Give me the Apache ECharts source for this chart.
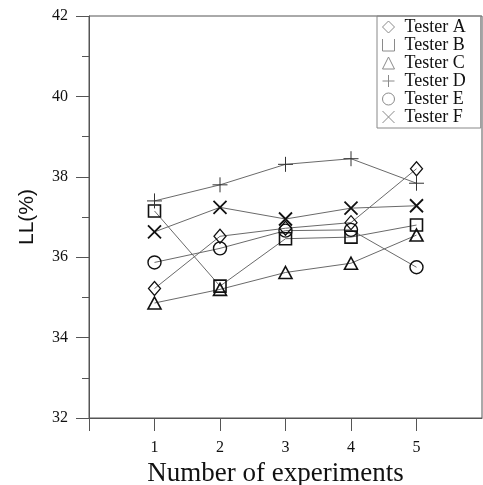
<!DOCTYPE html>
<html>
<head>
<meta charset="utf-8">
<script src="https://cdn.jsdelivr.net/npm/echarts@6/dist/echarts.min.js"></script>
<style>
  html, body { margin: 0; padding: 0; background: #fff; }
  #chart { width: 483px; height: 485px; }
</style>
</head>
<body>
<div id="chart"></div>
<script>
// Liquid limit measured by six testers over five repeated experiments
const experiments = [1, 2, 3, 4, 5];
const testerNames = ['Tester A', 'Tester B', 'Tester C', 'Tester D', 'Tester E', 'Tester F'];
const testerA = [35.22, 36.52, 36.72, 36.86, 38.20];
const testerB = [37.15, 35.28, 36.46, 36.50, 36.80];
const testerC = [34.86, 35.20, 35.62, 35.85, 36.55];
const testerD = [37.40, 37.80, 38.31, 38.45, 37.84];
const testerE = [35.87, 36.22, 36.66, 36.68, 35.75];
const testerF = [36.63, 37.24, 36.95, 37.22, 37.28];
const yTicks = [32, 34, 36, 38, 40, 42];

const PLUS = 'path://M0,6L12,6M6,0L6,12';
const CROSS = 'path://M0,0L12,12M12,0L0,12';

const markerDefs = [
  { values: testerA, symbol: 'diamond', size: [12, 14], width: 1.3, color: '#111' },
  { values: testerB, symbol: 'rect', size: 12, width: 1.6, color: '#111' },
  { values: testerC, symbol: 'triangle', size: [13, 12], width: 1.6, color: '#111' },
  { values: testerD, symbol: PLUS, size: 15, width: 1, color: '#333' },
  { values: testerE, symbol: 'circle', size: 13, width: 1.4, color: '#111' },
  { values: testerF, symbol: CROSS, size: 13, width: 1.8, color: '#111' }
];
const legendIcons = ['diamond', 'path://M0,0L0,12L12,12L12,0', 'triangle', PLUS, 'circle', CROSS];

const series = markerDefs.map((m, i) => ({
  name: testerNames[i],
  type: 'line',
  data: experiments.map((x, j) => [x, m.values[j]]),
  symbol: m.symbol,
  symbolSize: m.size,
  itemStyle: { color: 'transparent', borderColor: m.color, borderWidth: m.width },
  lineStyle: { color: '#6a6a6a', width: 1 },
  emphasis: { disabled: true },
  animation: false
}));

const serif = 'Liberation Serif';
const chart = echarts.init(document.getElementById('chart'), null, { renderer: 'canvas' });
chart.setOption({
  backgroundColor: '#fff',
  animation: false,
  grid: {
    left: 89, top: 16, right: 1, bottom: 67,
    outerBoundsMode: 'none',
    show: true, borderColor: '#555', borderWidth: 1
  },
  legend: {
    orient: 'vertical',
    left: 377, top: 16,
    padding: [2, 15, 2, 5],
    itemGap: 0,
    itemWidth: 12, itemHeight: 12,
    borderColor: '#888', borderWidth: 1,
    selectedMode: false,
    data: testerNames.map((n, i) => ({ name: n, icon: legendIcons[i] })),
    itemStyle: { color: 'transparent', borderColor: '#8a8a8a', borderWidth: 1 },
    textStyle: { fontFamily: serif, fontSize: 18, lineHeight: 17.5, color: '#111', padding: [0, 0, 0, 5] }
  },
  xAxis: {
    type: 'value',
    min: 0, max: 6, interval: 1,
    name: 'Number of experiments',
    nameLocation: 'middle',
    nameGap: 38,
    nameTextStyle: { fontFamily: serif, fontSize: 27, color: '#111', padding: [0, 20, 0, 0] },
    axisLine: { onZero: false, lineStyle: { color: '#555', width: 1 } },
    axisTick: { show: true, length: 13, lineStyle: { color: '#555' }, customValues: [0, 1, 2, 3, 4, 5] },
    axisLabel: { fontFamily: serif, fontSize: 16, color: '#111', margin: 22, customValues: experiments },
    splitLine: { show: false }
  },
  yAxis: {
    type: 'value',
    min: yTicks[0], max: yTicks[yTicks.length - 1], interval: 2,
    name: 'LL(%)',
    nameLocation: 'middle',
    nameGap: 51,
    nameTextStyle: { fontFamily: 'Liberation Sans', fontSize: 21, color: '#111' },
    axisLine: { onZero: false, lineStyle: { color: '#555', width: 1 } },
    axisTick: { show: true, length: 13, lineStyle: { color: '#555' } },
    minorTick: { show: true, splitNumber: 2, length: 7, lineStyle: { color: '#555' } },
    axisLabel: { fontFamily: serif, fontSize: 16, color: '#111', margin: 21 },
    splitLine: { show: false },
    minorSplitLine: { show: false }
  },
  series: series
});
</script>
</body>
</html>
